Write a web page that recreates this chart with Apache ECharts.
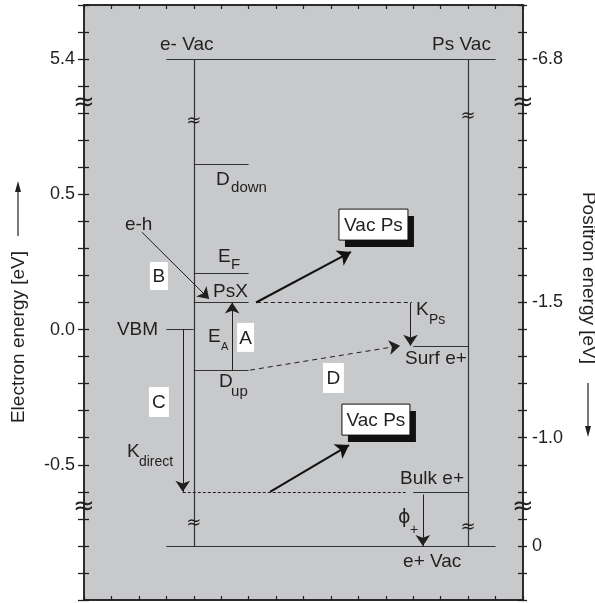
<!DOCTYPE html>
<html><head><meta charset="utf-8">
<script src="https://cdn.jsdelivr.net/npm/echarts@6/dist/echarts.min.js"></script>
<style>html,body{margin:0;padding:0;background:#fff}#c{width:595px;height:603px}</style>
</head><body><div id="c"></div>
<script>
// ---- data (display scale of the left axis; axis is broken above 0.8 and below -0.7) ----
const levelNames  = ['e- Vac', 'D down', 'E F', 'PsX', 'VBM', 'D up', 'Surf e+', 'Bulk e+', 'e+ Vac'];
const levelEnergy = [1.0, 0.61, 0.21, 0.10, 0.00, -0.15, -0.06, -0.60, -0.80];
const levelFrom   = [3, 4, 4, 4, 3, 4, 12, 12, 3];
const levelTo     = [15, 6, 6, 6, 4, 6, 14, 14, 15];

const bandX = [4, 14];
const bandTop = 1.0;
const bandBottom = -0.8;

const thinArrowFrom = [[2.11, 0.36], [3.6, 0.0], [5.4, -0.15], [11.9, 0.1], [12.35, -0.61]];
const thinArrowTo   = [[4.56, 0.113], [3.6, -0.6], [5.4, 0.1], [11.9, -0.06], [12.35, -0.8]];
const psArrowFrom = [[6.27, 0.1], [6.78, -0.6]];
const psArrowTo   = [[9.73, 0.287], [9.66, -0.427]];
const dashArrowFrom = [[6.05, -0.15]];
const dashArrowTo   = [[11.52, -0.06]];
const dashFrom = [[6.3, 0.1], [3.6, -0.6]];
const dashTo   = [[11.95, 0.1], [11.8, -0.6]];

const leftTickValues  = [1.0, 0.5, 0.0, -0.5];
const leftTickLabels  = ['5.4', '0.5', '0.0', '-0.5'];
const rightTickValues = [1.0, 0.1, -0.4, -0.8];
const rightTickLabels = ['-6.8', '-1.5', '-1.0', '0'];

// text annotations (data coords)
const labelTexts = ['e- Vac','Ps Vac','D','down','E','F','PsX','VBM','E','A','D','up','K','Ps','Surf e+','K','direct','Bulk e+','\u03D5','+','e+ Vac','e-h'];
const labelX = [2.77, 14.83, 4.81, 5.36, 4.88, 5.36, 4.70, 1.20, 4.52, 4.99, 4.92, 5.36, 12.10, 12.57, 11.70, 1.57, 2.00, 11.52, 11.44, 11.88, 11.63, 1.49];
const labelY = [1.052, 1.052, 0.553, 0.523, 0.268, 0.239, 0.139, 0.0, -0.028, -0.065, -0.194, -0.231, 0.072, 0.035, -0.109, -0.453, -0.490, -0.553, -0.697, -0.741, -0.860, 0.387];
const boxTexts = ['A', 'B', 'C', 'D', 'Vac Ps', 'Vac Ps'];
const boxX = [5.89, 2.73, 2.73, 9.09, 10.55, 10.64];
const boxY = [-0.029, 0.198, -0.268, -0.179, 0.388, -0.333];
const breakAxisY = [0.838, -0.658];
const breakBandY = [[0.771, -0.715], [0.79, -0.730]];

// ---- styles ----
const ink = '#231f20';
const FONT = '"Liberation Sans", Arial, Helvetica, sans-serif';
const labelSize = [19,19,19,15,19,15,19,19,19,11,19,15,19,14,19,19,14,19,19,14,19,19];
const labelAlign = labelTexts.map((t, i) => i === 1 ? 'right' : 'left');
const labelFont = labelTexts.map(t => t === '\u03D5' ? '"DejaVu Sans", sans-serif' : FONT);
const boxW = [17, 18, 20, 21, 69, 68];
const boxH = [29, 28, 30, 30, 31, 31];
const boxShadow = [false, false, false, false, true, true];

function fmt(values, labels) {
  return v => {
    const k = Math.round(v * 10);
    const i = values.findIndex(t => Math.round(t * 10) === k);
    return i < 0 ? '' : labels[i];
  };
}
const yBase = { type: 'value', min: -1.0, max: 1.2, interval: 0.1, splitLine: { show: false } };
const xBase = {
  type: 'value', min: 0, max: 16, interval: 1, splitLine: { show: false },
  axisLine: { onZero: false, lineStyle: { color: ink, width: 1.5 } },
  axisTick: { show: true, inside: true, length: 4, lineStyle: { color: ink, width: 1.2 } },
  axisLabel: { show: false }
};
const seg = (a, b) => ({ coords: [a, b] });

const chart = echarts.init(document.getElementById('c'), null, { renderer: 'canvas' });
chart.setOption({
  animation: false,
  grid: { left: 84, top: 5, width: 439, height: 595, show: true, backgroundColor: '#c8c9cb', borderColor: ink, borderWidth: 1.5 },
  xAxis: [Object.assign({}, xBase, { position: 'bottom' }), Object.assign({}, xBase, { position: 'top' })],
  yAxis: [
    Object.assign({}, yBase, { position: 'left',
      axisLine: { show: true, onZero: false, lineStyle: { color: ink, width: 1.5 } },
      axisTick: { show: true, inside: false, length: 6, lineStyle: { color: ink, width: 1.3 } },
      axisLabel: { formatter: fmt(leftTickValues, leftTickLabels), margin: 9, fontSize: 18, color: ink, fontFamily: FONT } }),
    Object.assign({}, yBase, { position: 'left', axisLine: { show: false, onZero: false },
      axisTick: { show: true, inside: true, length: 5, lineStyle: { color: ink, width: 1.3 } }, axisLabel: { show: false } }),
    Object.assign({}, yBase, { position: 'right',
      axisLine: { show: true, onZero: false, lineStyle: { color: ink, width: 1.5 } },
      axisTick: { show: true, inside: false, length: 4, lineStyle: { color: ink, width: 1.3 } },
      axisLabel: { formatter: fmt(rightTickValues, rightTickLabels), margin: 9, fontSize: 18, color: ink, fontFamily: FONT } }),
    Object.assign({}, yBase, { position: 'right', axisLine: { show: false, onZero: false },
      axisTick: { show: true, inside: true, length: 5, lineStyle: { color: ink, width: 1.3 } }, axisLabel: { show: false } })
  ],
  series: [
    { type: 'lines', coordinateSystem: 'cartesian2d', symbol: 'none', silent: true,
      lineStyle: { color: '#333', width: 1, opacity: 1 },
      data: levelNames.map((n, i) => ({ name: n, coords: [[levelFrom[i], levelEnergy[i]], [levelTo[i], levelEnergy[i]]] })) },
    { type: 'lines', coordinateSystem: 'cartesian2d', symbol: 'none', silent: true,
      lineStyle: { color: '#333', width: 1.2, opacity: 1 },
      data: bandX.map(x => seg([x, bandTop], [x, bandBottom])) },
    { type: 'lines', coordinateSystem: 'cartesian2d', symbol: ['none', 'arrow'], symbolSize: [6, 11], silent: true,
      lineStyle: { color: ink, width: 1, opacity: 1 },
      data: thinArrowFrom.map((a, i) => seg(a, thinArrowTo[i])) },
    { type: 'lines', coordinateSystem: 'cartesian2d', symbol: ['none', 'arrow'], symbolSize: [7, 13], silent: true,
      lineStyle: { color: '#111', width: 2, opacity: 1 },
      data: psArrowFrom.map((a, i) => seg(a, psArrowTo[i])) },
    { type: 'lines', coordinateSystem: 'cartesian2d', symbol: ['none', 'arrow'], symbolSize: [6, 11], silent: true,
      lineStyle: { color: ink, width: 1, opacity: 1, type: [5, 4] },
      data: dashArrowFrom.map((a, i) => seg(a, dashArrowTo[i])) },
    { type: 'lines', coordinateSystem: 'cartesian2d', symbol: 'none', silent: true,
      lineStyle: { color: ink, width: 1, opacity: 1, type: [4, 3] },
      data: [seg(dashFrom[0], dashTo[0])] },
    { type: 'lines', coordinateSystem: 'cartesian2d', symbol: 'none', silent: true,
      lineStyle: { color: ink, width: 1, opacity: 1, type: [3, 2] },
      data: [seg(dashFrom[1], dashTo[1])] }
  ]
});

function px(x, y) { return chart.convertToPixel({ xAxisIndex: 0, yAxisIndex: 0 }, [x, y]); }
const g = [];
labelTexts.forEach((t, i) => {
  const p = px(labelX[i], labelY[i]);
  g.push({ type: 'text', x: p[0], y: p[1], z: 20,
    style: { text: t, fill: ink, font: labelSize[i] + 'px ' + labelFont[i], align: labelAlign[i], verticalAlign: 'middle' } });
});
boxTexts.forEach((t, i) => {
  const p = px(boxX[i], boxY[i]);
  const w = boxW[i], h = boxH[i];
  if (boxShadow[i]) {
    g.push({ type: 'rect', z: 18, shape: { x: p[0] - w / 2 + 6, y: p[1] - h / 2 + 7, width: w, height: h }, style: { fill: '#111', stroke: null } });
  }
  g.push({ type: 'rect', z: 19, shape: { x: p[0] - w / 2, y: p[1] - h / 2, width: w, height: h },
    style: { fill: '#fff', stroke: boxShadow[i] ? '#111' : null, lineWidth: 1 } });
  g.push({ type: 'text', z: 20, x: p[0], y: p[1] + 1,
    style: { text: t, fill: ink, font: '19px ' + FONT, align: 'center', verticalAlign: 'middle' } });
});
// axis break marks
breakAxisY.forEach(y => {
  [0, 16].forEach(x => {
    const p = px(x, y);
    g.push({ type: 'text', z: 20, x: p[0], y: p[1], style: { text: '≈', fill: ink, font: '26px "DejaVu Sans", sans-serif', align: 'center', verticalAlign: 'middle' } });
  });
});
bandX.forEach((x, k) => {
  breakBandY[k].forEach(y => {
    const p = px(x, y);
    g.push({ type: 'text', z: 20, x: p[0], y: p[1], style: { text: '≈', fill: ink, font: '18px "DejaVu Sans", sans-serif', align: 'center', verticalAlign: 'middle' } });
  });
});
// axis titles
g.push({ type: 'text', z: 20, x: 19, y: 337, rotation: Math.PI / 2,
  style: { text: 'Electron energy [eV]', fill: ink, font: '19px ' + FONT, align: 'center', verticalAlign: 'middle' } });
g.push({ type: 'line', z: 20, shape: { x1: 18, y1: 236, x2: 18, y2: 190 }, style: { stroke: ink, lineWidth: 1.2 } });
g.push({ type: 'polygon', z: 20, shape: { points: [[18, 181], [15, 192], [21, 192]] }, style: { fill: ink } });
g.push({ type: 'text', z: 20, x: 588, y: 278, rotation: -Math.PI / 2,
  style: { text: 'Positron energy [eV]', fill: ink, font: '19px ' + FONT, align: 'center', verticalAlign: 'middle' } });
g.push({ type: 'line', z: 20, shape: { x1: 588, y1: 383, x2: 588, y2: 428 }, style: { stroke: ink, lineWidth: 1.2 } });
g.push({ type: 'polygon', z: 20, shape: { points: [[588, 437], [585, 426], [591, 426]] }, style: { fill: ink } });

chart.setOption({ graphic: g });
</script>
</body></html>
